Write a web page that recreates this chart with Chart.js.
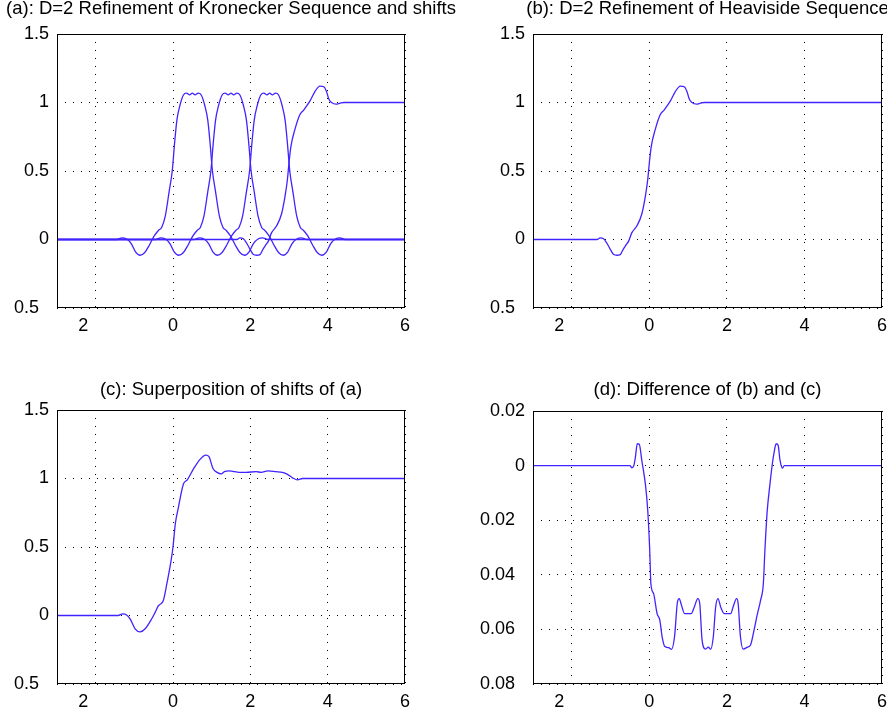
<!DOCTYPE html>
<html>
<head>
  <title>D=2 Refinement</title>
  <script src="https://cdn.jsdelivr.net/npm/chart.js"></script>
  <style>
    body { margin: 0; background: white; overflow: hidden; }
    #wrap { position: relative; width: 887px; height: 713px; overflow: hidden; }
    canvas { position: absolute; }
  </style>
</head>
<body>
  <div id="wrap">
    <canvas id="chartA" width="462" height="360" style="left:0px;top:0px"></canvas>
    <canvas id="chartB" width="529" height="360" style="left:443px;top:0px"></canvas>
    <canvas id="chartC" width="462" height="332" style="left:0px;top:381px"></canvas>
    <canvas id="chartD" width="529" height="332" style="left:443px;top:381px"></canvas>
  </div>

  <script>
    // axis ticks (minus signs are missing in the original figure)
    const xTicks = [-2, 0, 2, 4, 6];
    const xTickText = ['2', '0', '2', '4', '6'];
    const yTicks = [-0.5, 0, 0.5, 1, 1.5];
    const yTickText = ['0.5', '0', '0.5', '1', '1.5'];
    const yTicksD = [-0.08, -0.06, -0.04, -0.02, 0, 0.02];
    const yTickTextD = ['0.08', '0.06', '0.04', '0.02', '0', '0.02'];

    // (a) refined Kronecker bump and its shifts
    const bumpY = [0, 0, 0.012, 0.004, -0.03, -0.09, -0.115, -0.095, -0.04, 0.025, 0.065, 0.09, 0.17, 0.35, 0.5, 0.7, 0.87, 0.98,
      1.055, 1.068, 1.056, 1.068, 1.056, 1.068, 1.055, 0.98, 0.87, 0.7, 0.5, 0.35, 0.17, 0.09, 0.065, 0.025, -0.04, -0.095,
      -0.115, -0.09, -0.03, 0.004, 0.012, 0, 0];
    const bump1X = [-3, -1.45, -1.32, -1.2, -1.08, -0.97, -0.85, -0.73, -0.61, -0.49, -0.38, -0.29, -0.2, -0.1, -0.02, 0.04, 0.1, 0.18,
      0.27, 0.35, 0.43, 0.5, 0.57, 0.65, 0.73, 0.82, 0.9, 0.96, 1.02, 1.1, 1.2, 1.29, 1.38, 1.49, 1.61, 1.73,
      1.85, 1.97, 2.08, 2.2, 2.32, 2.45, 6];
    const bump2X = [-3, -0.45, -0.32, -0.2, -0.08, 0.03, 0.15, 0.27, 0.39, 0.51, 0.62, 0.71, 0.8, 0.9, 0.98, 1.04, 1.1, 1.18,
      1.27, 1.35, 1.43, 1.5, 1.57, 1.65, 1.73, 1.82, 1.9, 1.96, 2.02, 2.1, 2.2, 2.29, 2.38, 2.49, 2.61, 2.73,
      2.85, 2.97, 3.08, 3.2, 3.32, 3.45, 6];
    const bump3X = [-3, 0.55, 0.68, 0.8, 0.92, 1.03, 1.15, 1.27, 1.39, 1.51, 1.62, 1.71, 1.8, 1.9, 1.98, 2.04, 2.1, 2.18,
      2.27, 2.35, 2.43, 2.5, 2.57, 2.65, 2.73, 2.82, 2.9, 2.96, 3.02, 3.1, 3.2, 3.29, 3.38, 3.49, 3.61, 3.73,
      3.85, 3.97, 4.08, 4.2, 4.32, 4.45, 6];

    // (b) refined Heaviside step, also drawn shifted in (a)
    const stepY = [0, 0, 0.012, 0.005, -0.024, -0.07, -0.11, -0.115, -0.11, -0.07, -0.04, -0.01, 0.05, 0.1, 0.19, 0.32, 0.44,
      0.56, 0.68, 0.8, 0.91, 0.945, 1.01, 1.08, 1.12, 1.115, 1.08, 1.025, 1.0, 0.988, 0.995, 1.0, 1];
    const stepX = [-3, -1.35, -1.27, -1.18, -1.1, -1.01, -0.92, -0.84, -0.75, -0.67, -0.6, -0.53, -0.45, -0.32, -0.19, -0.1, -0.04,
      0.0, 0.05, 0.15, 0.28, 0.38, 0.54, 0.67, 0.8, 0.9, 0.97, 1.03, 1.1, 1.22, 1.32, 1.42, 6];
    const stepShiftX = [-3, 1.65, 1.73, 1.82, 1.9, 1.99, 2.08, 2.16, 2.25, 2.33, 2.4, 2.47, 2.55, 2.68, 2.81, 2.9, 2.96,
      3.0, 3.05, 3.15, 3.28, 3.38, 3.54, 3.67, 3.8, 3.9, 3.97, 4.03, 4.1, 4.22, 4.32, 4.42, 6];

    // (c) superposition of shifts
    const superX = [-3, -1.42, -1.3, -1.2, -1.11, -0.98, -0.85, -0.72, -0.55, -0.45, -0.38, -0.25, -0.16, -0.05, 0, 0.06, 0.14,
      0.27, 0.37, 0.53, 0.7, 0.85, 0.93, 1.03, 1.14, 1.25, 1.33, 1.46, 1.59, 1.7, 1.89, 2.15, 2.28, 2.45, 2.66, 2.83,
      2.96, 3.09, 3.22, 3.35, 6];
    const superY = [0, 0, 0.012, 0.004, -0.024, -0.097, -0.12, -0.097, -0.024, 0.03, 0.07, 0.11, 0.23, 0.4, 0.5, 0.67, 0.79,
      0.96, 0.99, 1.07, 1.14, 1.17, 1.16, 1.075, 1.045, 1.034, 1.05, 1.055, 1.05, 1.045, 1.045, 1.05, 1.045, 1.055, 1.05, 1.045,
      1.03, 1.005, 0.99, 1.0, 1];

    // (d) difference of (b) and (c)
    const diffX = [-3, -0.5, -0.45, -0.4, -0.36, -0.31, -0.26, -0.19, -0.1, -0.04, 0.01, 0.04, 0.11, 0.2, 0.27, 0.33, 0.4,
      0.5, 0.57, 0.65, 0.72, 0.77, 0.83, 0.91, 1.08, 1.16, 1.25, 1.3, 1.36, 1.45, 1.52, 1.58, 1.65, 1.71, 1.77, 1.84,
      1.93, 2.1, 2.16, 2.25, 2.29, 2.35, 2.42, 2.53, 2.61, 2.7, 2.78, 2.87, 2.94, 2.98, 3.04, 3.11, 3.17, 3.22, 3.27,
      3.32, 3.37, 3.43, 3.48, 6];
    const diffY = [0, 0, -0.0008, 0.0, 0.003, 0.008, 0.0078, 0.0015, -0.007, -0.0166, -0.031, -0.0433, -0.0469, -0.0542, -0.0566, -0.0627, -0.0663,
      -0.0667, -0.0673, -0.0627, -0.0505, -0.0487, -0.0512, -0.0542, -0.0542, -0.0518, -0.0487, -0.0505, -0.0639, -0.0672, -0.0665, -0.0673, -0.0627, -0.0518, -0.0487, -0.0518,
      -0.0542, -0.0542, -0.0518, -0.0487, -0.0505, -0.0627, -0.0672, -0.0665, -0.0657, -0.0603, -0.0548, -0.0493, -0.0433, -0.0312, -0.0166, -0.0069, 0.0004, 0.005, 0.008,
      0.0075, 0.002, -0.0009, 0, 0];

    const FONT = "'Liberation Sans', Arial, sans-serif";
    const LINE = 'rgb(64, 36, 255)';

    function pts(xs, ys) {
      return xs.map((x, i) => ({ x: x, y: ys[i] }));
    }

    function line(xs, ys) {
      return {
        data: pts(xs, ys),
        borderColor: LINE,
        borderWidth: 1.3,
        pointRadius: 0,
        cubicInterpolationMode: 'monotone',
        fill: false
      };
    }

    const boxPlugin = {
      id: 'box',
      afterDatasetsDraw(chart) {
        const a = chart.chartArea, ctx = chart.ctx;
        ctx.save();
        ctx.strokeStyle = '#000';
        ctx.lineWidth = 1;
        ctx.strokeRect(Math.round(a.left) + 0.5, Math.round(a.top) + 0.5,
          Math.round(a.right - a.left) - 1, Math.round(a.bottom - a.top) - 1);
        ctx.restore();
      }
    };

    // area = [left, top, right, bottom] of the plot box inside the canvas
    function panel(id, title, datasets, yMin, yMax, yT, yTxt, area) {
      const cv = document.getElementById(id);
      new Chart(cv, {
        type: 'line',
        data: { datasets: datasets },
        plugins: [boxPlugin],
        options: {
          responsive: false,
          animation: false,
          layout: { padding: 0 },
          plugins: {
            legend: { display: false },
            tooltip: { enabled: false },
            title: {
              display: true,
              text: title,
              color: '#000',
              font: { family: FONT, size: 18.5, weight: 'normal', lineHeight: 1 },
              padding: { top: 0, bottom: area[1] - 18.5 }
            }
          },
          scales: {
            x: {
              type: 'linear',
              min: -3,
              max: 6,
              afterBuildTicks: s => { s.ticks = xTicks.map(v => ({ value: v })); },
              afterFit: s => { s.height = cv.height - area[3]; },
              grid: { color: '#000', lineWidth: 1, drawTicks: false },
              border: { display: false, dash: [1, 7] },
              ticks: {
                color: '#000',
                padding: 7,
                maxRotation: 0,
                font: { family: FONT, size: 18 },
                callback: (v) => {
                  const t = xTickText[xTicks.indexOf(v)];
                  return v < 0 ? t + '     ' : t;
                }
              }
            },
            y: {
              type: 'linear',
              min: yMin,
              max: yMax,
              afterBuildTicks: s => { s.ticks = yT.map(v => ({ value: v })); },
              afterFit: s => { s.width = area[0]; },
              grid: { color: '#000', lineWidth: 1, drawTicks: false },
              border: { display: false, dash: [1, 7] },
              ticks: {
                color: '#000',
                padding: 8,
                font: { family: FONT, size: 18 },
                callback: (v) => {
                  const t = yTxt[yT.indexOf(v)];
                  return v < 0 ? t + '  ' : t;
                }
              }
            },
            // empty right-hand margin so the title centres over the plot box
            yRight: {
              type: 'linear',
              position: 'right',
              afterFit: s => { s.width = cv.width - area[2]; },
              grid: { display: false },
              border: { display: false },
              ticks: { display: false }
            }
          }
        }
      });
    }

    panel('chartA', '(a): D=2 Refinement of Kronecker Sequence and shifts',
      [line(bump1X, bumpY), line(bump2X, bumpY), line(bump3X, bumpY), line(stepShiftX, stepY)],
      -0.5, 1.5, yTicks, yTickText, [57, 34, 405, 308]);

    panel('chartB', '(b): D=2 Refinement of Heaviside Sequence',
      [line(stepX, stepY)],
      -0.5, 1.5, yTicks, yTickText, [90, 34, 439, 308]);

    panel('chartC', '(c): Superposition of shifts of (a)',
      [line(superX, superY)],
      -0.5, 1.5, yTicks, yTickText, [57, 29, 405, 303]);

    panel('chartD', '(d): Difference of (b) and (c)',
      [line(diffX, diffY)],
      -0.08, 0.02, yTicksD, yTickTextD, [90, 30, 439, 303]);
  </script>
</body>
</html>
